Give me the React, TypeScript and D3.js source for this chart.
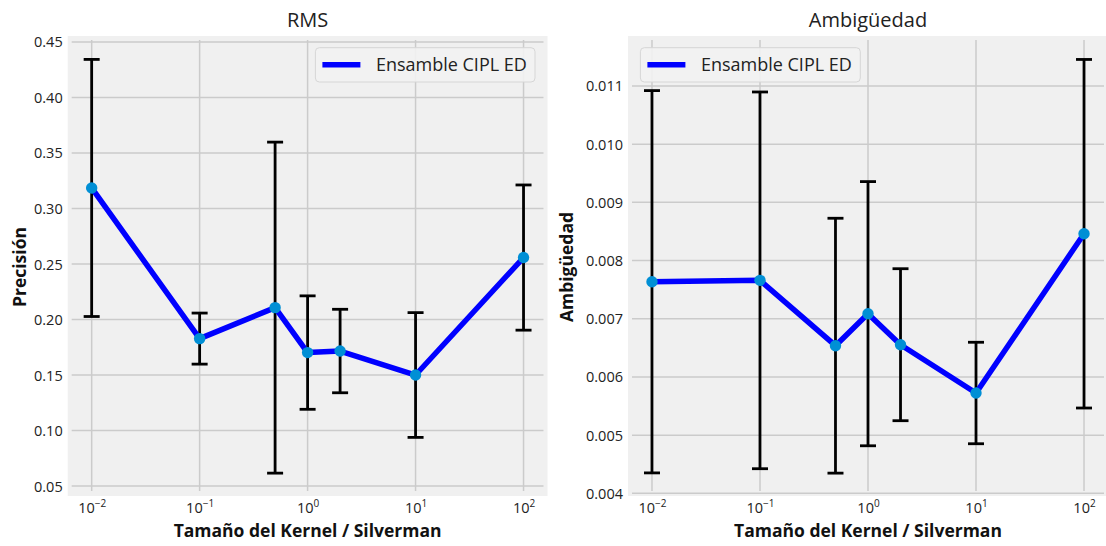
import React from "react";
import * as d3 from "d3";

const kernelSizes = [0.01, 0.1, 0.5, 1, 2, 10, 100];
const rmsMean = [0.3185, 0.1828, 0.2107, 0.1702, 0.1716, 0.15, 0.2558];
const rmsStd = [0.1158, 0.023, 0.1491, 0.0511, 0.0376, 0.0562, 0.0654];
const ambMean = [0.007636, 0.00766, 0.006537, 0.007087, 0.006554, 0.005724, 0.008461];
const ambStd = [0.003285, 0.003237, 0.00219, 0.00227, 0.001306, 0.000872, 0.002995];
const rmsTicks = [0.05, 0.1, 0.15, 0.2, 0.25, 0.3, 0.35, 0.4, 0.45];
const ambTicks = [0.004, 0.005, 0.006, 0.007, 0.008, 0.009, 0.01, 0.011];
const xTickExps = [-2, -1, 0, 1, 2];
const legendLabel = "Ensamble CIPL ED";
const xLabel = "Tamaño del Kernel / Silverman";

const FONT = "'Open Sans', 'Noto Sans', 'DejaVu Sans', sans-serif";
const TOP = 36;
const BOTTOM = 496;

type PanelProps = {
  x0: number;
  x1: number;
  yDomain: [number, number];
  yTicks: number[];
  fmt: string;
  mean: number[];
  std: number[];
  title: string;
  ylabel: string;
  ylabelX: number;
  legendX: number;
  legendW: number;
};

function Panel(p: PanelProps) {
  const x = d3.scaleLog().domain([Math.pow(10, -2.222), Math.pow(10, 2.222)]).range([p.x0, p.x1]);
  const y = d3.scaleLinear().domain(p.yDomain).range([BOTTOM, TOP]);
  const fmt = d3.format(p.fmt);
  const line = d3
    .line<number>()
    .x((_, i) => x(kernelSizes[i]))
    .y((v) => y(v));
  const cx = (p.x0 + p.x1) / 2;
  const cy = (TOP + BOTTOM) / 2;
  const cap = 8;
  return (
    <g>
      <rect x={p.x0} y={TOP} width={p.x1 - p.x0} height={BOTTOM - TOP} fill="#f0f0f0" />
      {p.yTicks.map((t) => (
        <g key={"y" + t}>
          <line x1={p.x0 + 4} x2={p.x1 - 4} y1={y(t)} y2={y(t)} stroke="#cbcbcb" strokeWidth={1.5} />
          <text x={p.x0 - 5} y={y(t) + 5.5} textAnchor="end" fontSize={14.5} fill="#222" fontFamily={FONT}>
            {fmt(t)}
          </text>
        </g>
      ))}
      {xTickExps.map((e) => {
        const xv = x(Math.pow(10, e));
        return (
          <g key={"x" + e}>
            <line x1={xv} x2={xv} y1={TOP + 4} y2={BOTTOM - 5} stroke="#cbcbcb" strokeWidth={1.5} />
            <text x={xv + 0.5} y={512.7} textAnchor="middle" fontSize={14.5} fill="#222" fontFamily={FONT}>
              <tspan>10</tspan>
              <tspan dy={-5.5} fontSize={10}>
                {e < 0 ? "\u2212" + Math.abs(e) : String(e)}
              </tspan>
            </text>
          </g>
        );
      })}
      {kernelSizes.map((k, i) => {
        const xv = x(k);
        const yt = y(p.mean[i] + p.std[i]);
        const yb = y(p.mean[i] - p.std[i]);
        return (
          <g key={"e" + i} stroke="#000" strokeWidth={2.8}>
            <line x1={xv} x2={xv} y1={yt} y2={yb} />
            <line x1={xv - cap} x2={xv + cap} y1={yt} y2={yt} />
            <line x1={xv - cap} x2={xv + cap} y1={yb} y2={yb} />
          </g>
        );
      })}
      <path d={line(p.mean) || ""} fill="none" stroke="#0000ff" strokeWidth={5.5} strokeLinejoin="round" />
      {kernelSizes.map((k, i) => (
        <circle key={"m" + i} cx={x(k)} cy={y(p.mean[i])} r={5.7} fill="#008fd5" />
      ))}
      <rect
        x={p.legendX}
        y={47.7}
        width={p.legendW}
        height={34.3}
        rx={4}
        fill="#f2f2f2"
        fillOpacity={0.9}
        stroke="#d6d6d6"
        strokeWidth={1}
      />
      <line x1={p.legendX + 7} x2={p.legendX + 45} y1={64.7} y2={64.7} stroke="#0000ff" strokeWidth={5.5} />
      <text x={p.legendX + 60.5} y={71.2} fontSize={18} fill="#222" fontFamily={FONT}>
        {legendLabel}
      </text>
      <text x={cx} y={27} textAnchor="middle" fontSize={20} fill="#222" fontFamily={FONT}>
        {p.title}
      </text>
      <text x={cx} y={536.7} textAnchor="middle" fontSize={17.5} fontWeight="bold" fill="#111" fontFamily={FONT}>
        {xLabel}
      </text>
      <text
        transform={`translate(${p.ylabelX},${cy + 1}) rotate(-90)`}
        textAnchor="middle"
        fontSize={17.5}
        fontWeight="bold"
        fill="#111"
        fontFamily={FONT}
      >
        {p.ylabel}
      </text>
    </g>
  );
}

export default function App() {
  return (
    <svg
      width={1106}
      height={546}
      style={{ position: "absolute", left: 0, top: 0, background: "#fff" }}
    >
      <Panel
        x0={67.7}
        x1={547.5}
        yDomain={[0.041, 0.4554]}
        yTicks={rmsTicks}
        fmt=".2f"
        mean={rmsMean}
        std={rmsStd}
        title="RMS"
        ylabel="Precisión"
        ylabelX={25.5}
        legendX={315.4}
        legendW={219.6}
      />
      <Panel
        x0={628}
        x1={1108}
        yDomain={[0.003954, 0.011859]}
        yTicks={ambTicks}
        fmt=".3f"
        mean={ambMean}
        std={ambStd}
        title="Ambigüedad"
        ylabel="Ambigüedad"
        ylabelX={573}
        legendX={640.4}
        legendW={219.9}
      />
    </svg>
  );
}
